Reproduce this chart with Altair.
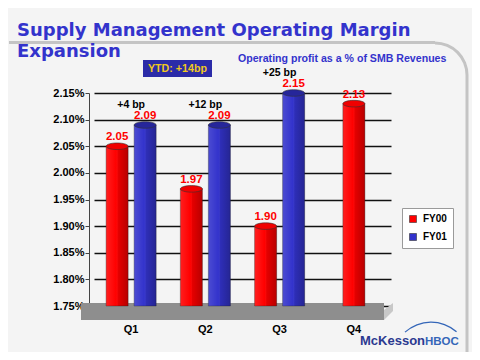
import altair as alt
import pandas as pd

# ---------------- data ----------------
quarters = ["Q1", "Q2", "Q3", "Q4"]
fy00 = [2.05, 1.97, 1.90, 2.13]
fy01 = [2.09, 2.09, 2.15, None]
series_names = ["FY00", "FY01"]
series_colors = ["#ff0000", "#3333cc"]
cap_colors = ["#f00000", "#26269a"]
y_ticks = [1.75, 1.80, 1.85, 1.90, 1.95, 2.00, 2.05, 2.10, 2.15]

gap_quarters = ["Q1", "Q2", "Q3"]
gap_labels = ["+4 bp", "+12 bp", "+25 bp"]
gap_y = [2.128, 2.128, 2.188]

title_lines = ["Supply Management Operating Margin", "Expansion"]
subtitle = ["Operating profit as a % of SMB Revenues"]
ytd_label = ["YTD: +14bp"]
logo_parts = ["McKesson", "HBOC"]

FONT = "Liberation Sans"

rows = []
for q, a, b in zip(quarters, fy00, fy01):
    if a is not None:
        rows.append({"quarter": q, "series": "FY00", "value": a})
    if b is not None:
        rows.append({"quarter": q, "series": "FY01", "value": b})
df = pd.DataFrame(rows)
df["n"] = df.groupby("quarter")["value"].transform("count")
pair = df[df["n"] == 2]
single = df[df["n"] == 1]
gaps = pd.DataFrame({"quarter": gap_quarters, "label": gap_labels, "value": gap_y})
one = pd.DataFrame({"k": [0]})

# ---------------- encodings ----------------
x_enc = alt.X(
    "quarter:N",
    scale=alt.Scale(domain=quarters, range=[5, 302], paddingInner=0, paddingOuter=0),
    axis=alt.Axis(title=None, labelAngle=0, domain=False, ticks=False, labelPadding=17,
                  labelFont=FONT, labelFontSize=11, labelFontWeight="bold", labelColor="black"),
)
y_enc = alt.Y(
    "value:Q",
    scale=alt.Scale(domain=[1.75, 2.15], nice=False, zero=False),
    axis=alt.Axis(values=y_ticks, title=None, labelExpr="format(datum.value,'.2f')+'%'",
                  grid=True, gridColor="#111111", gridWidth=1.3, domainColor="#444444",
                  tickColor="#444444", tickSize=4, labelPadding=1, labelFont=FONT,
                  labelFontSize=11, labelFontWeight="bold", labelColor="black"),
)
xoff = alt.XOffset("series:N", scale=alt.Scale(domain=series_names, paddingInner=0.214, paddingOuter=0.432))
color_enc = alt.Color(
    "series:N",
    scale=alt.Scale(domain=series_names, range=series_colors),
    legend=alt.Legend(title=None, orient="none", legendX=313, legendY=115, fillColor="#ffffff",
                      strokeColor="#9a9a9a", padding=6, symbolType="square", symbolSize=49,
                      symbolStrokeColor="#333333", symbolStrokeWidth=0.6, labelFont=FONT,
                      labelFontSize=10, labelFontWeight="bold", labelColor="black",
                      rowPadding=8, labelOffset=5),
)
fill_caps = alt.Fill("series:N", scale=alt.Scale(domain=series_names, range=cap_colors), legend=None)

shade = alt.LinearGradient(
    gradient="linear", x1=0, x2=1, y1=0, y2=0,
    stops=[alt.GradientStop(offset=0, color="rgba(255,255,255,0.12)"),
           alt.GradientStop(offset=0.45, color="rgba(255,255,255,0)"),
           alt.GradientStop(offset=0.55, color="rgba(0,0,0,0.10)"),
           alt.GradientStop(offset=1, color="rgba(0,0,0,0.28)")],
)
ellipse = "M -1 0 A 1 0.3 0 1 1 1 0 A 1 0.3 0 1 1 -1 0 Z"

# ---------------- decorations ----------------
floor = alt.Chart(one).mark_rect(color="#8e8e8e").encode(
    x=alt.value(-8), x2=alt.value(295), y=alt.value(210), y2=alt.value(227))
floor_side = alt.Chart(one).mark_point(
    shape="M -0.53 -0.18 L 0.53 -1 L 0.53 -0.06 L -0.53 1 Z", size=289, filled=True,
    fill="#c8c8c8", opacity=1, strokeWidth=0).encode(x=alt.value(299.5), y=alt.value(218.5))

hline = alt.Chart(one).mark_rule(color="#c4c4c4", strokeWidth=3).encode(
    x=alt.value(-80), x2=alt.value(346), y=alt.value(-50.5))
corner = alt.Chart(one).mark_arc(theta=0, theta2=1.5708, radius=33.5, radius2=30.5, color="#c4c4c4").encode(
    x=alt.value(346), y=alt.value(-18))
vline = alt.Chart(one).mark_rule(color="#c4c4c4", strokeWidth=3).encode(
    x=alt.value(378), y=alt.value(-18), y2=alt.value(270))

t_df1 = pd.DataFrame({"t": [title_lines[0]]})
t_df2 = pd.DataFrame({"t": [title_lines[1]]})
title1 = alt.Chart(t_df1).mark_text(align="left", baseline="alphabetic", font="DejaVu Sans",
                                     fontWeight="bold", fontSize=18, color="#3333cc").encode(
    x=alt.value(-72), y=alt.value(-57.5), text="t:N")
title2 = alt.Chart(t_df2).mark_text(align="left", baseline="alphabetic", font="DejaVu Sans",
                                     fontWeight="bold", fontSize=18, color="#3333cc").encode(
    x=alt.value(-72), y=alt.value(-36), text="t:N")
sub = alt.Chart(pd.DataFrame({"t": subtitle})).mark_text(
    align="left", baseline="alphabetic", font=FONT, fontWeight="bold", fontSize=10.6,
    color="#3333cc").encode(x=alt.value(149), y=alt.value(-31.5), text="t:N")
ytd_box = alt.Chart(one).mark_rect(color="#2b2ba8").encode(
    x=alt.value(54), x2=alt.value(123), y=alt.value(-33), y2=alt.value(-16))
ytd_text = alt.Chart(pd.DataFrame({"t": ytd_label})).mark_text(
    align="center", baseline="middle", font=FONT, fontWeight="bold", fontSize=10.7,
    color="#f0c81e").encode(x=alt.value(88.5), y=alt.value(-24.5), text="t:N")

logo1 = alt.Chart(pd.DataFrame({"t": [logo_parts[0]]})).mark_text(
    align="left", baseline="alphabetic", font=FONT, fontWeight="bold", fontSize=13,
    color="#2b3990").encode(x=alt.value(271), y=alt.value(252), text="t:N")
logo2 = alt.Chart(pd.DataFrame({"t": [logo_parts[1]]})).mark_text(
    align="left", baseline="alphabetic", font=FONT, fontWeight="bold", fontSize=11.5,
    color="#3466b8").encode(x=alt.value(336), y=alt.value(252), text="t:N")
logo_arc = alt.Chart(one).mark_arc(theta=5.55, theta2=7.0, radius=39.5, radius2=38.2, color="#3466b8").encode(
    x=alt.value(342), y=alt.value(268))

# ---------------- bars ----------------
bars_pair = alt.Chart(pair).mark_bar(stroke="#222222", strokeWidth=0.6, strokeOpacity=0.6).encode(
    x=x_enc, xOffset=xoff, y=y_enc, y2=alt.datum(1.75), color=color_enc)
bars_single = alt.Chart(single).mark_bar(size=22, stroke="#222222", strokeWidth=0.6, strokeOpacity=0.6).encode(
    x=x_enc, y=y_enc, y2=alt.datum(1.75), color=color_enc)
shade_pair = alt.Chart(pair).mark_bar(fill=shade).encode(
    x=x_enc, xOffset=xoff, y=y_enc, y2=alt.datum(1.75))
shade_single = alt.Chart(single).mark_bar(size=22, fill=shade).encode(
    x=x_enc, y=y_enc, y2=alt.datum(1.75))
caps_pair = alt.Chart(pair).mark_point(shape=ellipse, size=484, filled=True, opacity=1,
                                       stroke="#333333", strokeWidth=0.6).encode(
    x=x_enc, xOffset=xoff, y=y_enc, fill=fill_caps)
caps_single = alt.Chart(single).mark_point(shape=ellipse, size=484, filled=True, opacity=1,
                                           stroke="#333333", strokeWidth=0.6).encode(
    x=x_enc, y=y_enc, fill=fill_caps)
lab_style = dict(dy=-6, baseline="alphabetic", color="#ff0000", font=FONT, fontWeight="bold", fontSize=11.5)
labels_pair = alt.Chart(pair).mark_text(**lab_style).encode(
    x=x_enc, xOffset=xoff, y=y_enc, text=alt.Text("value:Q", format=".2f"))
labels_single = alt.Chart(single).mark_text(**lab_style).encode(
    x=x_enc, y=y_enc, text=alt.Text("value:Q", format=".2f"))
gap_text = alt.Chart(gaps).mark_text(baseline="middle", color="black", font=FONT,
                                     fontWeight="bold", fontSize=10.5).encode(
    x=x_enc, y=y_enc, text="label:N")

chart = alt.layer(
    floor, floor_side, hline, corner, vline, title1, title2, sub, ytd_box, ytd_text,
    logo_arc, logo1, logo2,
    bars_pair, bars_single, shade_pair, shade_single, caps_pair, caps_single,
    labels_pair, labels_single, gap_text,
).properties(
    width=294, height=213,
    autosize=alt.AutoSizeParams(type="none"),
    padding={"left": 81, "top": 85, "right": 89, "bottom": 46},
    background="#f4f4f4",
).configure_view(strokeWidth=0)

chart.save("out.html", embed_options={"renderer": "svg", "actions": False})
